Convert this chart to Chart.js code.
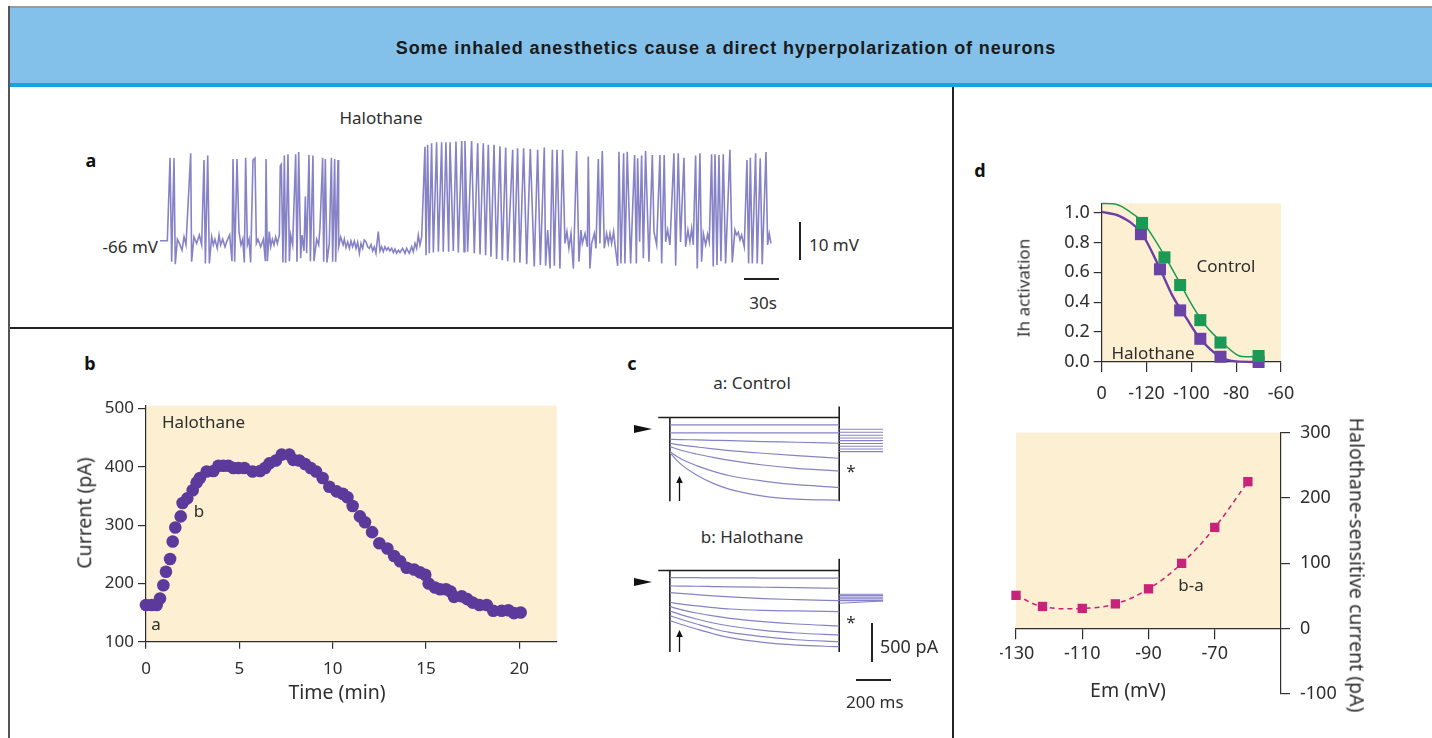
<!DOCTYPE html>
<html>
<head>
<meta charset="utf-8">
<script src="https://cdn.jsdelivr.net/npm/chart.js@4.4.1/dist/chart.umd.min.js"></script>
<style>
  body { margin: 0; width: 1432px; height: 738px; position: relative; overflow: hidden; background: #fff;
         font-family: "Noto Sans", sans-serif; color: #2e2e2e; }
  .box { position: absolute; }
  .t { position: absolute; white-space: nowrap; transform: translate(-50%, -50%); font-size: 17px; line-height: 1; }
  .l { transform: translate(0, -50%); }
  .r { transform: translate(-100%, -50%); }
  .big { font-size: 19.5px; }
  .tag { font-weight: 700; font-size: 18px; color: #111; }
  canvas { position: absolute; }
</style>
</head>
<body>
<!-- frame -->
<div class="box" style="left:9px;top:6px;width:1423px;height:2px;background:#9a9a9a"></div>
<div class="box" style="left:10px;top:8px;width:1422px;height:76px;background:#83c1ea"></div>
<div class="box" style="left:10px;top:83px;width:1422px;height:4px;background:#17a5e0"></div>
<div class="box" style="left:8px;top:6px;width:2px;height:732px;background:#555"></div>
<div class="box" style="left:952px;top:87px;width:2px;height:651px;background:#222"></div>
<div class="box" style="left:10px;top:327px;width:943px;height:2px;background:#222"></div>
<div class="t" style="left:726px;top:48px;font-family:'Liberation Sans',sans-serif;font-weight:700;font-size:18px;letter-spacing:0.9px;color:#1a1a1a">Some inhaled anesthetics cause a direct hyperpolarization of neurons</div>

<!-- panel a -->
<div class="t tag" style="left:91px;top:160px">a</div>
<div class="t" style="left:381px;top:117px">Halothane</div>
<div class="t r" style="left:158px;top:246px">-66 mV</div>
<canvas id="traceA" width="630" height="148" style="left:160px;top:130px"></canvas>
<div class="box" style="left:799px;top:222px;width:1.5px;height:38px;background:#222"></div>
<div class="t l" style="left:809px;top:244px">10 mV</div>
<div class="box" style="left:744px;top:278px;width:35px;height:1.5px;background:#222"></div>
<div class="t" style="left:763px;top:302px">30s</div>

<!-- panel b -->
<div class="t tag" style="left:90px;top:363px">b</div>
<canvas id="chartB" width="510" height="320" style="left:60px;top:395px"></canvas>
<div class="t l" style="left:162px;top:421px">Halothane</div>
<div class="t" style="left:156px;top:623px">a</div>
<div class="t" style="left:199px;top:510px">b</div>
<div class="t big" style="left:84px;top:513px;transform:translate(-50%,-50%) rotate(-90deg)">Current (pA)</div>
<div class="t big" style="left:337px;top:692px">Time (min)</div>

<!-- panel c -->
<div class="t tag" style="left:632px;top:363px">c</div>
<div class="t" style="left:752px;top:382px">a: Control</div>
<div class="t" style="left:752px;top:536px">b: Halothane</div>
<canvas id="chartC1" width="229" height="97" style="left:656px;top:405px"></canvas>
<canvas id="chartC2" width="229" height="97" style="left:656px;top:558px"></canvas>
<div class="box" style="left:634px;top:425px;width:0;height:0;border-left:18px solid #111;border-top:4.7px solid transparent;border-bottom:4.7px solid transparent"></div>
<div class="box" style="left:634px;top:578px;width:0;height:0;border-left:18px solid #111;border-top:4.7px solid transparent;border-bottom:4.7px solid transparent"></div>
<svg class="box" style="left:674px;top:476px" width="11" height="25"><line x1="5.5" y1="4" x2="5.5" y2="25" stroke="#111" stroke-width="1.3"/><polygon points="5.5,0 2.2,7 8.8,7" fill="#111"/></svg>
<svg class="box" style="left:674px;top:630px" width="11" height="22"><line x1="5.5" y1="4" x2="5.5" y2="22" stroke="#111" stroke-width="1.3"/><polygon points="5.5,0 2.2,7 8.8,7" fill="#111"/></svg>
<div class="t" style="left:851px;top:470px">*</div>
<div class="t" style="left:851px;top:621px">*</div>
<div class="box" style="left:871px;top:623px;width:1.5px;height:39px;background:#222"></div>
<div class="t l" style="left:880px;top:646px;font-size:18px">500 pA</div>
<div class="box" style="left:856px;top:679px;width:35px;height:1.5px;background:#222"></div>
<div class="t l" style="left:846px;top:701px">200 ms</div>

<!-- panel d -->
<div class="t tag" style="left:980px;top:170px">d</div>
<canvas id="chartD1" width="300" height="212" style="left:1005px;top:195px"></canvas>
<div class="t" style="left:1023px;top:288px;transform:translate(-50%,-50%) rotate(-90deg)">Ih activation</div>
<div class="t" style="left:1226px;top:265px">Control</div>
<div class="t" style="left:1153px;top:352px">Halothane</div>
<canvas id="chartD2" width="380" height="300" style="left:1000px;top:420px"></canvas>
<div class="t" style="left:1191px;top:584px">b-a</div>
<div class="t big" style="left:1128px;top:690px">Em (mV)</div>
<div class="t big" style="left:1357px;top:565px;transform:translate(-50%,-50%) rotate(90deg)">Halothane-sensitive current (pA)</div>

<script>
// ---- panel a: membrane potential trace, [time (s), mV]
const membraneTrace = [
  [0,-66],[6.3,-66],[8.6,-44.2],[10,-71.5],[12,-44.3],[13.1,-72.2],[14.9,-65.6],[16.6,-66.7],[18.9,-68.5],[20.6,-65],
  [22.3,-67.1],[26.3,-43],[27.1,-71.5],[29.1,-65],[31.4,-66.7],[33.7,-64.5],[35.7,-67.1],[37.7,-44.8],[38.9,-72],[40.9,-43.6],
  [42.3,-72],[44.3,-65],[45.7,-67.1],[47.1,-65.6],[49.1,-68],[50.6,-64.5],[52,-67.1],[53.7,-65.6],[55.7,-67.6],[57.1,-66.3],
  [59.7,-64.5],[61.7,-71.4],[62.6,-44.5],[64,-71.5],[66,-44.5],[67.7,-63.6],[69.4,-67.1],[70.9,-65.6],[72.3,-71.7],[73.4,-44.2],
  [74.9,-67.1],[76.3,-65.6],[77.7,-71.7],[79.7,-44.8],[81.4,-44.3],[82.6,-66.7],[84,-65.6],[86.3,-67.6],[88.6,-65.6],[90.3,-71.4],
  [90.9,-44.5],[92,-71.4],[93.7,-63.6],[94.9,-67.6],[96.3,-65.6],[97.7,-67.1],[99.1,-65],[100.6,-66.7],[102.3,-64.5],[103.1,-46.3],
  [104,-45.9],[105.4,-71.7],[106.6,-43.6],[107.7,-71.8],[109.7,-43.3],[110.9,-71.4],[112,-64.5],[113.7,-67.1],[116.3,-43.3],[117.4,-71.5],
  [118.9,-42.7],[120.6,-70.6],[121.7,-64.5],[123.4,-68.7],[124.6,-54.4],[125.7,-69.3],[127.7,-43.5],[128.9,-71.4],[131.1,-43.6],[132,-71.4],
  [134.3,-65.6],[136,-67.1],[137.1,-62.8],[139.4,-44.2],[140.3,-71.5],[141.7,-44.5],[143.1,-71.7],[145.1,-66.7],[146.9,-44.2],[148,-71.5],
  [149.7,-44.5],[150.6,-71.5],[152.6,-44.8],[153.1,-67.6],[154.9,-65],[156.9,-67.1],[158,-65.6],[159.4,-67.8],[160.9,-66.3],[162.3,-68],
  [163.7,-66.1],[165.1,-67.6],[166.6,-66.1],[168,-68],[169.4,-66.4],[170.9,-69.3],[172.3,-66.7],[173.7,-68],[175.1,-65.8],[176.6,-66.3],
  [178,-67.6],[179.4,-68],[180.9,-67],[182.3,-68.7],[183.7,-67.6],[185.1,-69.3],[187.1,-63.6],[188.6,-68.7],[190,-67.6],[191.4,-68.9],
  [192.8,-67.6],[194.3,-68.5],[195.7,-67.8],[197.1,-68.7],[198.6,-68],[200,-69.1],[201.4,-68.2],[202.8,-69.3],[204.3,-68.5],[205.7,-69.1],
  [208,-68],[210,-69.3],[211.4,-68],[213.7,-69.3],[215.7,-67.6],[217.1,-68.9],[218.6,-66.7],[220,-68],[221.4,-64.5],[222.8,-67.1],
  [224.3,-65],[227.1,-41.3],[228,-69.8],[229.4,-40.8],[230.8,-69.3],[232.8,-40.4],[234.3,-69.1],[237.1,-40.1],[238.6,-68.9],[241.4,-40.1],
  [242.8,-68.9],[245.1,-40.1],[247.4,-68.9],[248.6,-40.1],[251.4,-68.7],[253.7,-39.9],[255.7,-69.1],[258.6,-39.8],[260.6,-68.9],[261.4,-39.8],
  [263.7,-68.9],[267.1,-39.8],[269.4,-69.3],[272.3,-40.4],[274.3,-69.6],[277.1,-40.4],[279.1,-69.8],[281.4,-40.8],[283.7,-70.2],[286.3,-40.8],
  [288.5,-70.8],[291.4,-41.2],[293.4,-71.1],[296.3,-41.5],[298,-71.4],[302.3,-42.1],[303.7,-71.7],[306.5,-41.7],[308.5,-71.8],[311.7,-41.7],
  [314.3,-72.2],[317.4,-41.9],[320.8,-72.8],[323.7,-42.1],[326,-72.4],[329.4,-41.5],[330.5,-72.6],[332.3,-63.2],[334.3,-73.3],[336.3,-42.1],
  [338,-72.6],[340.3,-42.1],[342.8,-73.3],[345.1,-42.1],[347.1,-66.7],[348.8,-63.6],[350.5,-68],[352.3,-64.1],[354.3,-73.3],[357.1,-42.4],
  [359.1,-71.5],[360.8,-63.2],[362,-66.7],[364.3,-64.1],[366.3,-67.6],[367.1,-43.9],[368.5,-73.3],[370,-66.7],[372.3,-64.1],[373.7,-68],
  [375.7,-44.5],[377.1,-66.7],[379.1,-42.4],[380.8,-68],[382.8,-64.1],[384.3,-66.7],[385.7,-64.1],[387.1,-66.7],[388.8,-63.6],[390,-67.1],
  [392.3,-72.6],[393.4,-42.6],[395.1,-72],[397.4,-43],[398.5,-72],[400.5,-42.6],[403.4,-72],[406.8,-43.5],[408.3,-72],[409.4,-44.3],
  [411.1,-66.3],[412.8,-43.6],[414.3,-70.6],[416.2,-42.4],[419.1,-71.5],[422,-43.5],[423.4,-63.6],[425.7,-67.1],[428.5,-43.5],[430,-72],
  [432.2,-43.5],[433.4,-66.3],[435.1,-63.2],[437.1,-67.1],[440.5,-43],[442,-72.6],[444.2,-43],[446.2,-66.3],[449.1,-44.2],[450.5,-67.6],
  [452.5,-63.2],[454.2,-66.3],[455.7,-62.8],[457.1,-67.1],[459.1,-43.6],[460.5,-73.3],[462.8,-43],[464.2,-71.5],[465.7,-64.1],[467.7,-67.1],
  [469.4,-64.3],[470.8,-66.3],[472.8,-43.3],[474.2,-72.8],[475.7,-43.3],[477.4,-72.4],[479.1,-43.5],[480.8,-71.4],[482.8,-43.3],[484.8,-72],
  [488.5,-42.1],[490.5,-71.7],[492.8,-63.2],[494.2,-64.5],[495.7,-63.8],[497.1,-65.8],[498.5,-64.5],[500.8,-67.6],[503.1,-44.8],[504.5,-72],
  [506,-44.2],[507.7,-72],[510.5,-43],[511.9,-72],[514.5,-44.3],[516.2,-72.2],[519.4,-42.7],[520.8,-67.1],[522.2,-64.1],[523.7,-66.7]
];

// ---- panel b: holding current over time
const timeMin = [0,0.3,0.57,0.75,0.93,1.07,1.29,1.43,1.57,1.86,1.96,2.21,2.5,2.71,2.89,3.25,3.61,3.88,4.14,4.41,
  4.68,4.95,5.27,5.71,6.11,6.38,6.61,6.96,7.27,7.68,7.89,8.21,8.52,8.82,9.11,9.46,9.82,10.21,10.54,10.79,
  11.07,11.46,11.73,12.11,12.5,12.93,13.29,13.61,13.96,14.36,14.68,14.96,15.14,15.48,15.75,16.07,16.32,16.5,16.91,17.21,
  17.5,17.86,18.25,18.6,19.05,19.41,19.71,20.07];
const currentPa = [163,163,163,174,197,220,242,272,296,315,338,346,360,373,381,392,393,402,402,402,
  398,398,398,392,393,398,406,411,421,421,412,411,405,398,392,381,366,358,354,348,
  333,315,305,288,269,260,247,238,227,224,219,215,200,193,190,190,186,177,178,173,
  167,163,163,153,153,154,149,150];
const timeTicks = [0, 5, 10, 15, 20];
const currentTicks = [100, 200, 300, 400, 500];

// ---- panel c: current sweeps (ms, pA relative to holding)
const sweepTimes = [0, 58, 154, 250, 346, 538, 730, 976];
const controlSweeps = [
  [-94,-94,-94,-94,-94,-94,-94,-94],
  [-197,-197,-197,-197,-197,-197,-197,-197],
  [-278,-282,-286,-291,-295,-308,-316,-329],
  [-329,-350,-376,-401,-423,-457,-487,-521],
  [-372,-415,-466,-509,-547,-607,-650,-684],
  [-436,-521,-615,-688,-744,-812,-859,-893],
  [-449,-586,-735,-842,-919,-1004,-1043,-1056]
];
const halothaneSweeps = [
  [-90,-90,-92,-94,-94,-96,-98,-98],
  [-197,-199,-201,-205,-209,-214,-218,-227],
  [-282,-291,-308,-325,-338,-359,-372,-385],
  [-406,-427,-453,-474,-492,-509,-517,-526],
  [-462,-496,-543,-581,-611,-654,-684,-709],
  [-517,-560,-620,-671,-709,-765,-799,-825],
  [-577,-620,-684,-744,-791,-846,-885,-910],
  [-641,-684,-748,-808,-859,-919,-953,-974]
];
const tailTimes = [976, 1229];
const controlTails = [-150,-188,-226,-261,-295,-333,-368,-402,-436];
const halothaneTailStart = [-303,-321,-342,-363,-385,-419];
const halothaneTailEnd = [-303,-321,-342,-363,-385,-389];
const stepFrame = { start: -67, on: 0, off: 976 };
const controlFrame = { low: -1069, high: 141 };
const halothaneFrame = { low: -1043, high: 150 };

// ---- panel d: Ih activation
const ctrlVolts = [-122, -112, -105, -96, -87, -70];
const ctrlIh = [0.93, 0.70, 0.515, 0.28, 0.13, 0.04];
const haloVolts = [-122.5, -114, -105, -96, -87, -70];
const haloIh = [0.855, 0.62, 0.345, 0.155, 0.035, 0.0];
const ctrlFitVolts = [-140, -133.3, -127.4, -121.8, -117.1, -111.9, -105.2, -99.3, -93.3, -86, -78.8, -75.6, -69.6];
const ctrlFitIh = [1.06, 1.053, 1.004, 0.937, 0.837, 0.709, 0.531, 0.371, 0.237, 0.127, 0.042, 0.035, 0.037];
const haloFitVolts = [-140, -131.9, -122.2, -114.1, -108.2, -102.2, -96.3, -87.4, -80, -69.6];
const haloFitIh = [1.004, 0.975, 0.86, 0.627, 0.437, 0.293, 0.16, 0.037, 0.004, 0];
const ihVoltTicks = [-140, -120, -100, -80, -60];
const ihVoltLabels = ['0', '-120', '-100', '-80', '-60'];
const ihTicks = [0, 0.2, 0.4, 0.6, 0.8, 1.0];

// ---- panel d: halothane-sensitive current
const emVolts = [-130, -122, -110, -100, -90, -80, -70, -60];
const haloSensitive = [51, 34, 31, 38, 61, 100, 155, 225];
const emTicks = [-130, -110, -90, -70];
const sensTicks = [-100, 0, 100, 200, 300];

const ink = '#2e2e2e';
const paper = '#fdefd1';
const lilac = '#8682c6';

const paperPlugin = {
  id: 'paper',
  beforeDraw(chart, args, opts) {
    const a = chart.chartArea;
    const y = chart.scales.y;
    const top = opts.to !== undefined ? y.getPixelForValue(opts.to) : a.top;
    const bottom = opts.from !== undefined ? y.getPixelForValue(opts.from) : a.bottom;
    chart.ctx.save();
    chart.ctx.fillStyle = paper;
    chart.ctx.fillRect(a.left, top, a.right - a.left, bottom - top);
    chart.ctx.restore();
  }
};

function boxWidth(w) {
  return function (s) { s.width = w; s.paddingTop = 0; s.paddingBottom = 0; s.paddingLeft = 0; s.paddingRight = 0; };
}
function boxHeight(h) {
  return function (s) { s.height = h; s.paddingTop = 0; s.paddingBottom = 0; s.paddingLeft = 0; s.paddingRight = 0; };
}
function fixedTicks(values) {
  return function (s) { s.ticks = values.map(v => ({ value: v })); };
}
function axis(size, tickLen, pad, extra) {
  return Object.assign({
    type: 'linear',
    grid: { drawOnChartArea: false, drawTicks: true, tickLength: tickLen, color: ink, lineWidth: 1.2 },
    border: { display: true, color: ink, width: 1.2 },
    ticks: { color: ink, font: { family: 'Noto Sans', size: size }, padding: pad, autoSkip: false, maxRotation: 0 }
  }, extra);
}
function pairs(xs, ys) {
  return xs.map((x, i) => ({ x: x, y: ys[i] }));
}
const quiet = { legend: { display: false }, tooltip: { enabled: false } };

// panel a
new Chart(document.getElementById('traceA'), {
  type: 'line',
  data: {
    datasets: [{
      data: membraneTrace.map(p => ({ x: p[0], y: p[1] })),
      borderColor: lilac, borderWidth: 1.6, pointRadius: 0, tension: 0, clip: false
    }]
  },
  options: {
    responsive: false, animation: false,
    plugins: quiet,
    scales: {
      x: { type: 'linear', display: false, min: 0, max: 540 },
      y: { type: 'linear', display: false, min: -75.8, max: -36.9 }
    }
  }
});

// panel b
new Chart(document.getElementById('chartB'), {
  type: 'scatter',
  data: {
    datasets: [{
      data: pairs(timeMin, currentPa),
      pointRadius: 6.3, backgroundColor: '#5c3a9c', borderWidth: 0, clip: false
    }]
  },
  options: {
    responsive: false, animation: false,
    layout: { padding: { left: 9, top: 10.7, right: 13.3, bottom: 0 } },
    plugins: Object.assign({ paper: {} }, quiet),
    scales: {
      x: axis(17, 7, 10, { min: 0, max: 22, afterFit: boxHeight(73.3), afterBuildTicks: fixedTicks(timeTicks) }),
      y: axis(17, 8, 4, { min: 100, max: 505, afterFit: boxWidth(77), afterBuildTicks: fixedTicks(currentTicks) })
    }
  },
  plugins: [paperPlugin]
});

// panel c
function sweepChart(id, sweeps, tails, frame) {
  const sets = [];
  sweeps.forEach(s => sets.push({ data: pairs(sweepTimes, s), borderColor: lilac, borderWidth: 1.2, cubicInterpolationMode: 'monotone' }));
  tails.forEach(t => sets.push({ data: pairs(tailTimes, t), borderColor: lilac, borderWidth: 1.1 }));
  const black = { borderColor: '#1e1e1e', borderWidth: 1.6 };
  sets.push(Object.assign({ data: [{ x: stepFrame.start, y: 0 }, { x: stepFrame.off, y: 0 }] }, black));
  sets.push(Object.assign({ data: [{ x: stepFrame.on, y: 0 }, { x: stepFrame.on, y: frame.low }] }, black));
  sets.push(Object.assign({ data: [{ x: stepFrame.off, y: frame.high }, { x: stepFrame.off, y: frame.low }] }, black));
  sets.forEach(s => { s.pointRadius = 0; s.clip = false; });
  new Chart(document.getElementById(id), {
    type: 'line',
    data: { datasets: sets },
    options: {
      responsive: false, animation: false,
      plugins: quiet,
      scales: {
        x: { type: 'linear', display: false, min: -80, max: 1240 },
        y: { type: 'linear', display: false, min: -1080, max: 160 }
      }
    }
  });
}
sweepChart('chartC1', controlSweeps, controlTails.map(v => [v, v]), controlFrame);
sweepChart('chartC2', halothaneSweeps, halothaneTailStart.map((v, i) => [v, halothaneTailEnd[i]]), halothaneFrame);

// panel d, activation curves
new Chart(document.getElementById('chartD1'), {
  type: 'line',
  data: {
    datasets: [
      { data: pairs(ctrlVolts, ctrlIh), showLine: false, pointStyle: 'rect', pointRadius: 8.5, backgroundColor: '#1a9a55', borderWidth: 0, order: 0 },
      { data: pairs(haloVolts, haloIh), showLine: false, pointStyle: 'rect', pointRadius: 8.5, backgroundColor: '#6a43a7', borderWidth: 0, order: 0 },
      { data: pairs(ctrlFitVolts, ctrlFitIh), borderColor: '#1a9a55', borderWidth: 1.5, pointRadius: 0, cubicInterpolationMode: 'monotone', order: 1 },
      { data: pairs(haloFitVolts, haloFitIh), borderColor: '#6a3fa6', borderWidth: 2.4, pointRadius: 0, cubicInterpolationMode: 'monotone', order: 1 }
    ].map(d => Object.assign(d, { clip: false }))
  },
  options: {
    responsive: false, animation: false,
    layout: { padding: { left: 4.7, top: 8.3, right: 24, bottom: 0 } },
    plugins: Object.assign({ paper: {} }, quiet),
    scales: {
      x: axis(18, 10, 11, {
        min: -140, max: -60, afterFit: boxHeight(45), afterBuildTicks: fixedTicks(ihVoltTicks)
      }),
      y: axis(18, 8, 4, { min: 0, max: 1.06, afterFit: boxWidth(92), afterBuildTicks: fixedTicks(ihTicks) })
    }
  },
  plugins: [paperPlugin]
});
Chart.getChart('chartD1').options.scales.x.ticks.callback = (v, i) => ihVoltLabels[i];
Chart.getChart('chartD1').options.scales.y.ticks.callback = v => v.toFixed(1);
Chart.getChart('chartD1').update('none');

// panel d, halothane-sensitive current
new Chart(document.getElementById('chartD2'), {
  type: 'line',
  data: {
    datasets: [
      { data: pairs(emVolts, haloSensitive), borderColor: '#c8237a', borderWidth: 1.5, borderDash: [5, 4], tension: 0.4,
        pointStyle: 'rect', pointRadius: 6.6, pointBackgroundColor: '#c8237a', pointBorderWidth: 0, clip: false }
    ]
  },
  options: {
    responsive: false, animation: false,
    layout: { padding: { left: 16, top: 12.7, right: 7, bottom: 26 } },
    plugins: Object.assign({ paper: { from: 0, to: 300 } }, quiet),
    scales: {
      x: axis(18, 10, 4, { position: { y: 0 }, min: -130, max: -50, afterFit: boxHeight(60), afterBuildTicks: fixedTicks(emTicks) }),
      y: axis(18, 9, 10, { position: 'right', min: -100, max: 300, afterFit: boxWidth(92), afterBuildTicks: fixedTicks(sensTicks) })
    }
  },
  plugins: [paperPlugin]
});
</script>
</body>
</html>
